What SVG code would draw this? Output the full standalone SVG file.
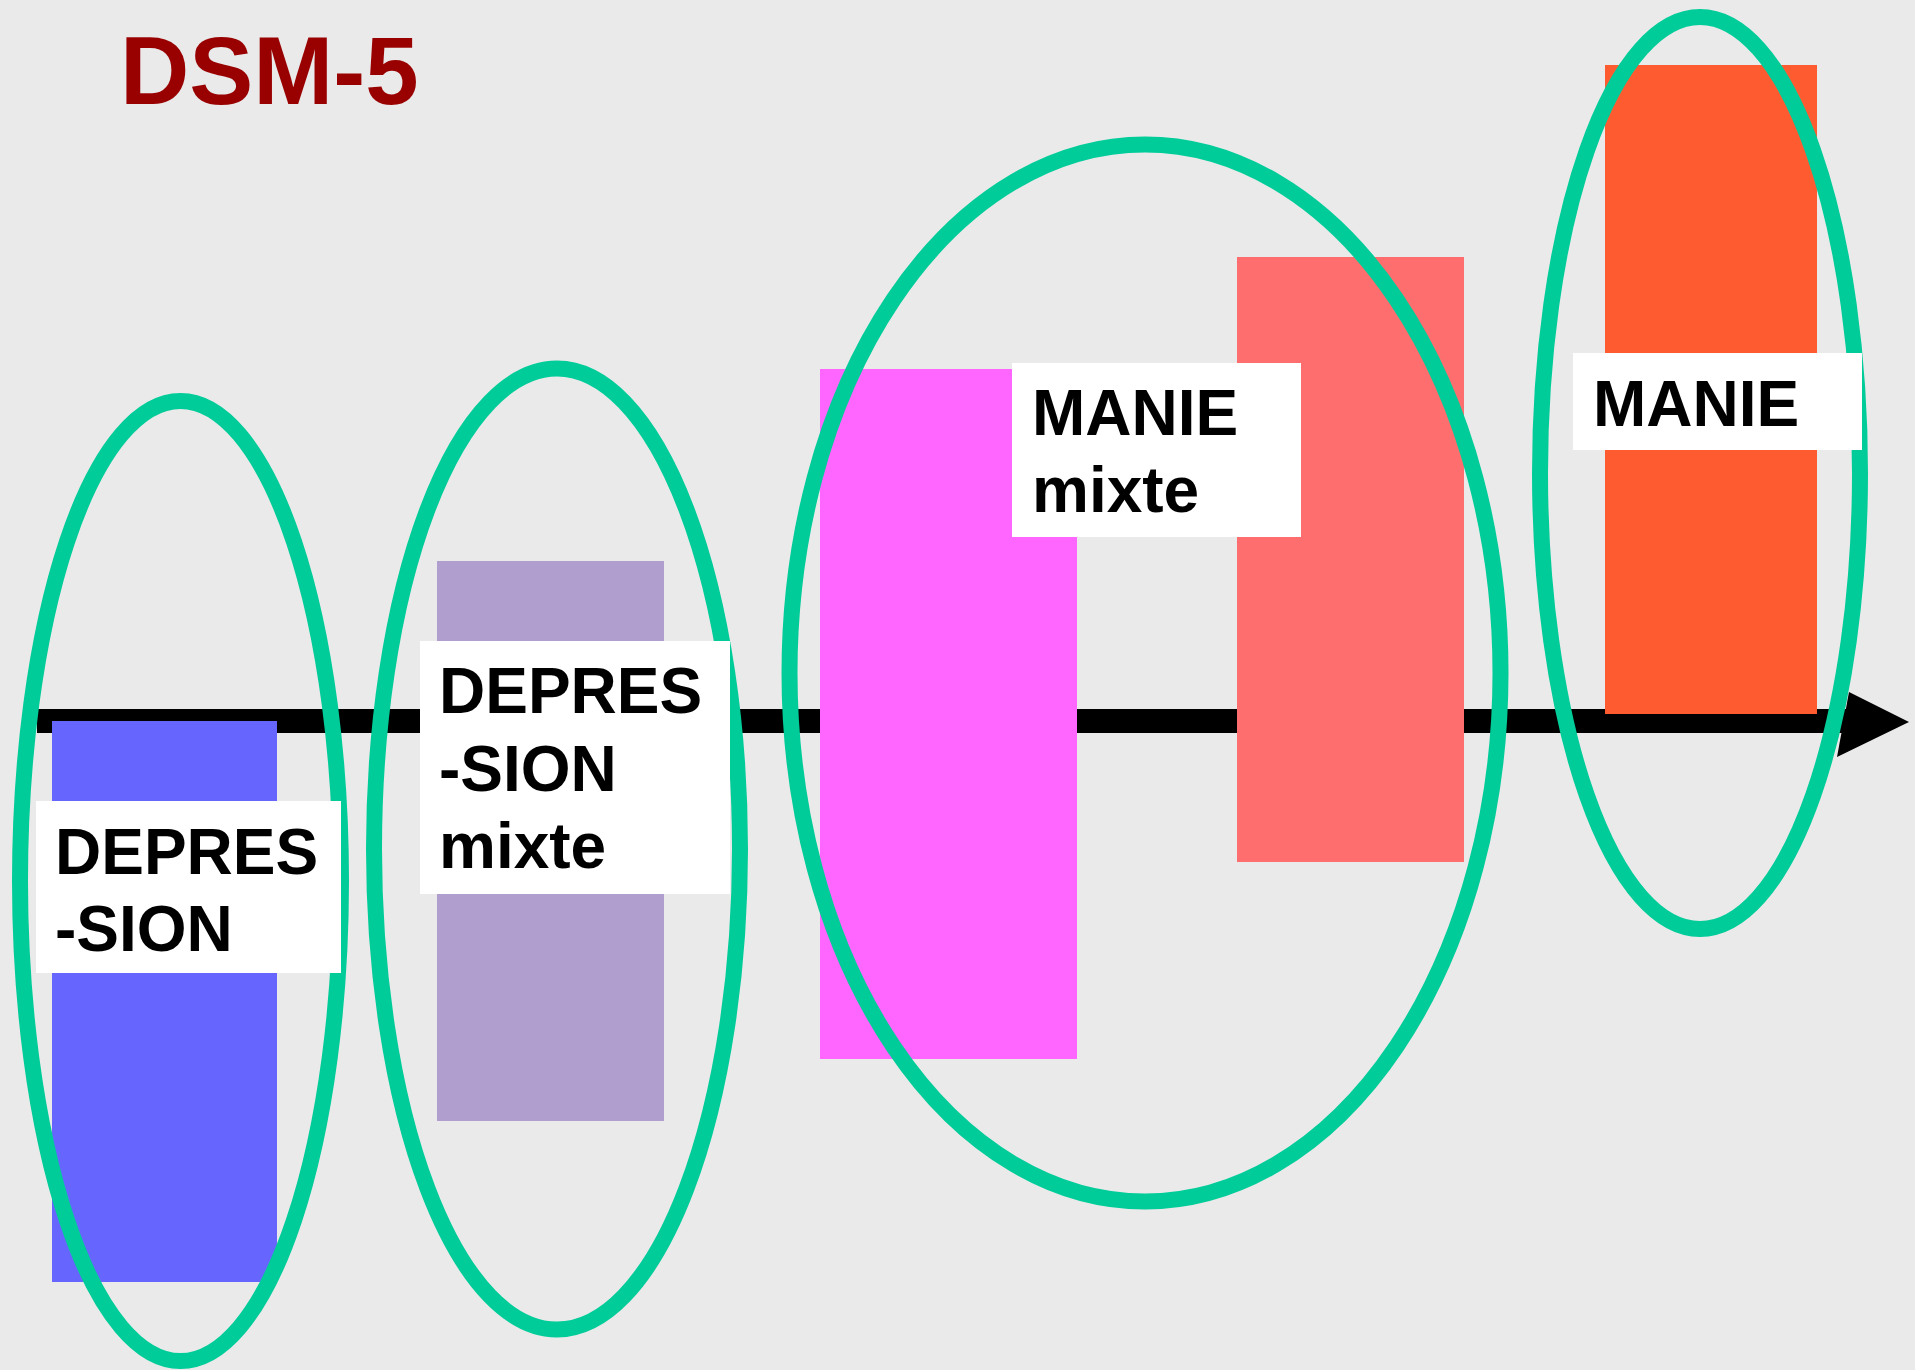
<svg xmlns="http://www.w3.org/2000/svg" width="1915" height="1370" viewBox="0 0 1915 1370">
<style>
.lbl{font-family:"Liberation Sans",Arial,sans-serif;font-weight:bold;font-size:64px;fill:#000}
.box{fill:#fff}
.ell{fill:none;stroke:#00CC99;stroke-width:16}
</style>
<rect width="1915" height="1370" fill="#EAEAEA"/>
<text x="120" y="104" style="font-family:'Liberation Sans',Arial,sans-serif;font-weight:bold;font-size:96px;fill:#990000">DSM-5</text>
<g id="connectors">
<line x1="37" y1="721" x2="1850" y2="721" stroke="#000" stroke-width="24"/>
<polygon points="1849,692 1909,722 1837,757" fill="#000"/>
</g>
<g id="bars">
<rect id="bar-depression" x="52" y="721" width="225" height="561" fill="#6666FF"/>
<rect id="bar-depression-mixte" x="437" y="561" width="227" height="560" fill="#B09ECE"/>
<rect id="bar-manie-mixte-1" x="820" y="369" width="257" height="690" fill="#FF66FF"/>
<rect id="bar-manie-mixte-2" x="1237" y="257" width="227" height="605" fill="#FF6E6E"/>
<rect id="bar-manie" x="1605" y="65" width="212" height="649" fill="#FF5B31"/>
</g>
<g id="ellipses">
<ellipse id="ell-depression" class="ell" cx="180.5" cy="881" rx="160.5" ry="480"/>
<ellipse id="ell-depression-mixte" class="ell" cx="557" cy="849" rx="183" ry="480.5"/>
<ellipse id="ell-manie-mixte" class="ell" cx="1145" cy="673" rx="355.5" ry="528.5"/>
<ellipse id="ell-manie" class="ell" cx="1700" cy="473" rx="160" ry="456"/>
</g>
<g id="node-depression">
<rect class="box" x="36" y="801" width="305" height="172"/>
<text class="lbl" x="55" y="874">DEPRES</text>
<text class="lbl" x="55" y="951">-SION</text>
</g>
<g id="node-depression-mixte">
<rect class="box" x="420" y="641" width="310" height="253"/>
<text class="lbl" x="439" y="713">DEPRES</text>
<text class="lbl" x="439" y="791">-SION</text>
<text class="lbl" x="439" y="868">mixte</text>
</g>
<g id="node-manie-mixte">
<rect class="box" x="1012" y="363" width="289" height="174"/>
<text class="lbl" x="1032" y="435">MANIE</text>
<text class="lbl" x="1032" y="512">mixte</text>
</g>
<g id="node-manie">
<rect class="box" x="1573" y="353" width="289" height="97"/>
<text class="lbl" x="1593" y="426">MANIE</text>
</g>
</svg>
